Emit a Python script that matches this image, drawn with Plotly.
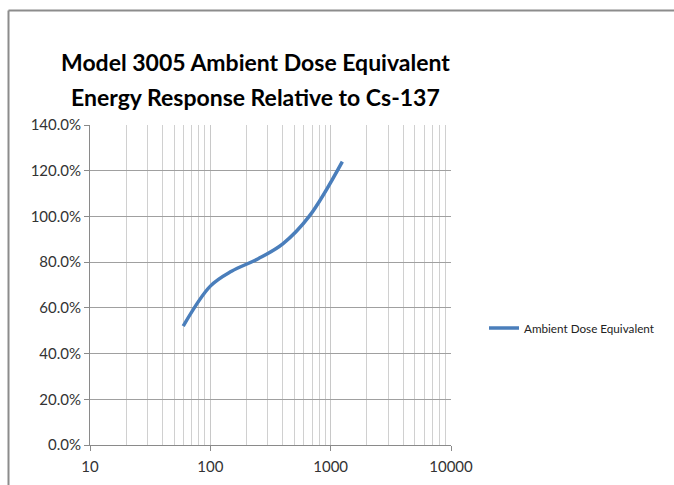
import plotly.graph_objects as go

# Data (energy in keV, response relative to Cs-137)
energy_kev = [59.5, 100, 150, 250, 400, 662, 1250]
response = [0.52, 0.695, 0.76, 0.815, 0.88, 1.00, 1.24]
series_name = "Ambient Dose Equivalent"
title_lines = ["Model 3005 Ambient Dose Equivalent", "Energy Response Relative to Cs-137"]
x_tickvals = [10, 100, 1000, 10000]
x_ticktext = ["10", "100", "1000", "10000"]

W, H = 674, 485
L, R, T, B = 90, 223, 125, 40
pw, ph = W - L - R, H - T - B

def px_x(p):
    return (p - L) / pw

def px_y(p):
    return (H - B - p) / ph

FONT = "Lato, 'Open Sans', sans-serif"

fig = go.Figure()
fig.add_trace(go.Scatter(
    x=energy_kev, y=response, mode="lines", name=series_name,
    line=dict(color="#4a7ebb", width=3.5, shape="spline", smoothing=1.0),
))

fig.update_layout(
    width=W, height=H,
    margin=dict(l=L, r=R, t=T, b=B),
    paper_bgcolor="white", plot_bgcolor="white",
    showlegend=True,
    legend=dict(x=px_x(484), y=px_y(328), xanchor="left", yanchor="middle",
                font=dict(family=FONT, size=11.7, color="#222"),
                bgcolor="rgba(0,0,0,0)", itemwidth=30),
    font=dict(family=FONT, color="#333"),
)

fig.update_xaxes(
    type="log", range=[1, 4], automargin=False,
    tickvals=x_tickvals, ticktext=x_ticktext,
    tickfont=dict(family=FONT, size=15, color="#333"),
    ticklabelstandoff=3,
    showgrid=True, gridcolor="#c8c8c8", gridwidth=1,
    minor=dict(showgrid=True, gridcolor="#d0d0d0", gridwidth=1, ticks="", dtick="D1"),
    showline=True, linecolor="#8a8a8a", linewidth=1,
    ticks="outside", ticklen=5, tickcolor="#8a8a8a",
    zeroline=False, mirror=False,
)
fig.update_yaxes(
    range=[0, 1.4], dtick=0.2, tickformat=".1%", automargin=False,
    tickfont=dict(family=FONT, size=15, color="#333"),
    showgrid=True, gridcolor="#a0a0a0", gridwidth=1,
    showline=True, linecolor="#8a8a8a", linewidth=1,
    ticks="outside", ticklen=5, tickcolor="#8a8a8a",
    zeroline=False,
)

for txt, yc in zip(title_lines, [62, 97]):
    fig.add_annotation(
        text=txt, xref="paper", yref="paper",
        x=px_x(255), y=px_y(yc), xanchor="center", yanchor="middle",
        showarrow=False,
        font=dict(family=FONT, size=23, color="black", weight="bold"),
    )

# chart frame (left and top border)
fig.add_shape(type="line", xref="paper", yref="paper",
              x0=px_x(8.5), x1=px_x(8.5), y0=px_y(10.5), y1=px_y(490),
              line=dict(color="#8c8c8c", width=2))
fig.add_shape(type="line", xref="paper", yref="paper",
              x0=px_x(8.5), x1=px_x(680), y0=px_y(10.5), y1=px_y(10.5),
              line=dict(color="#8c8c8c", width=2))

fig.write_html(
    "out.html",
    config={"displayModeBar": False},
    post_script="document.body.style.margin='0';document.body.style.overflow='hidden';",
)
